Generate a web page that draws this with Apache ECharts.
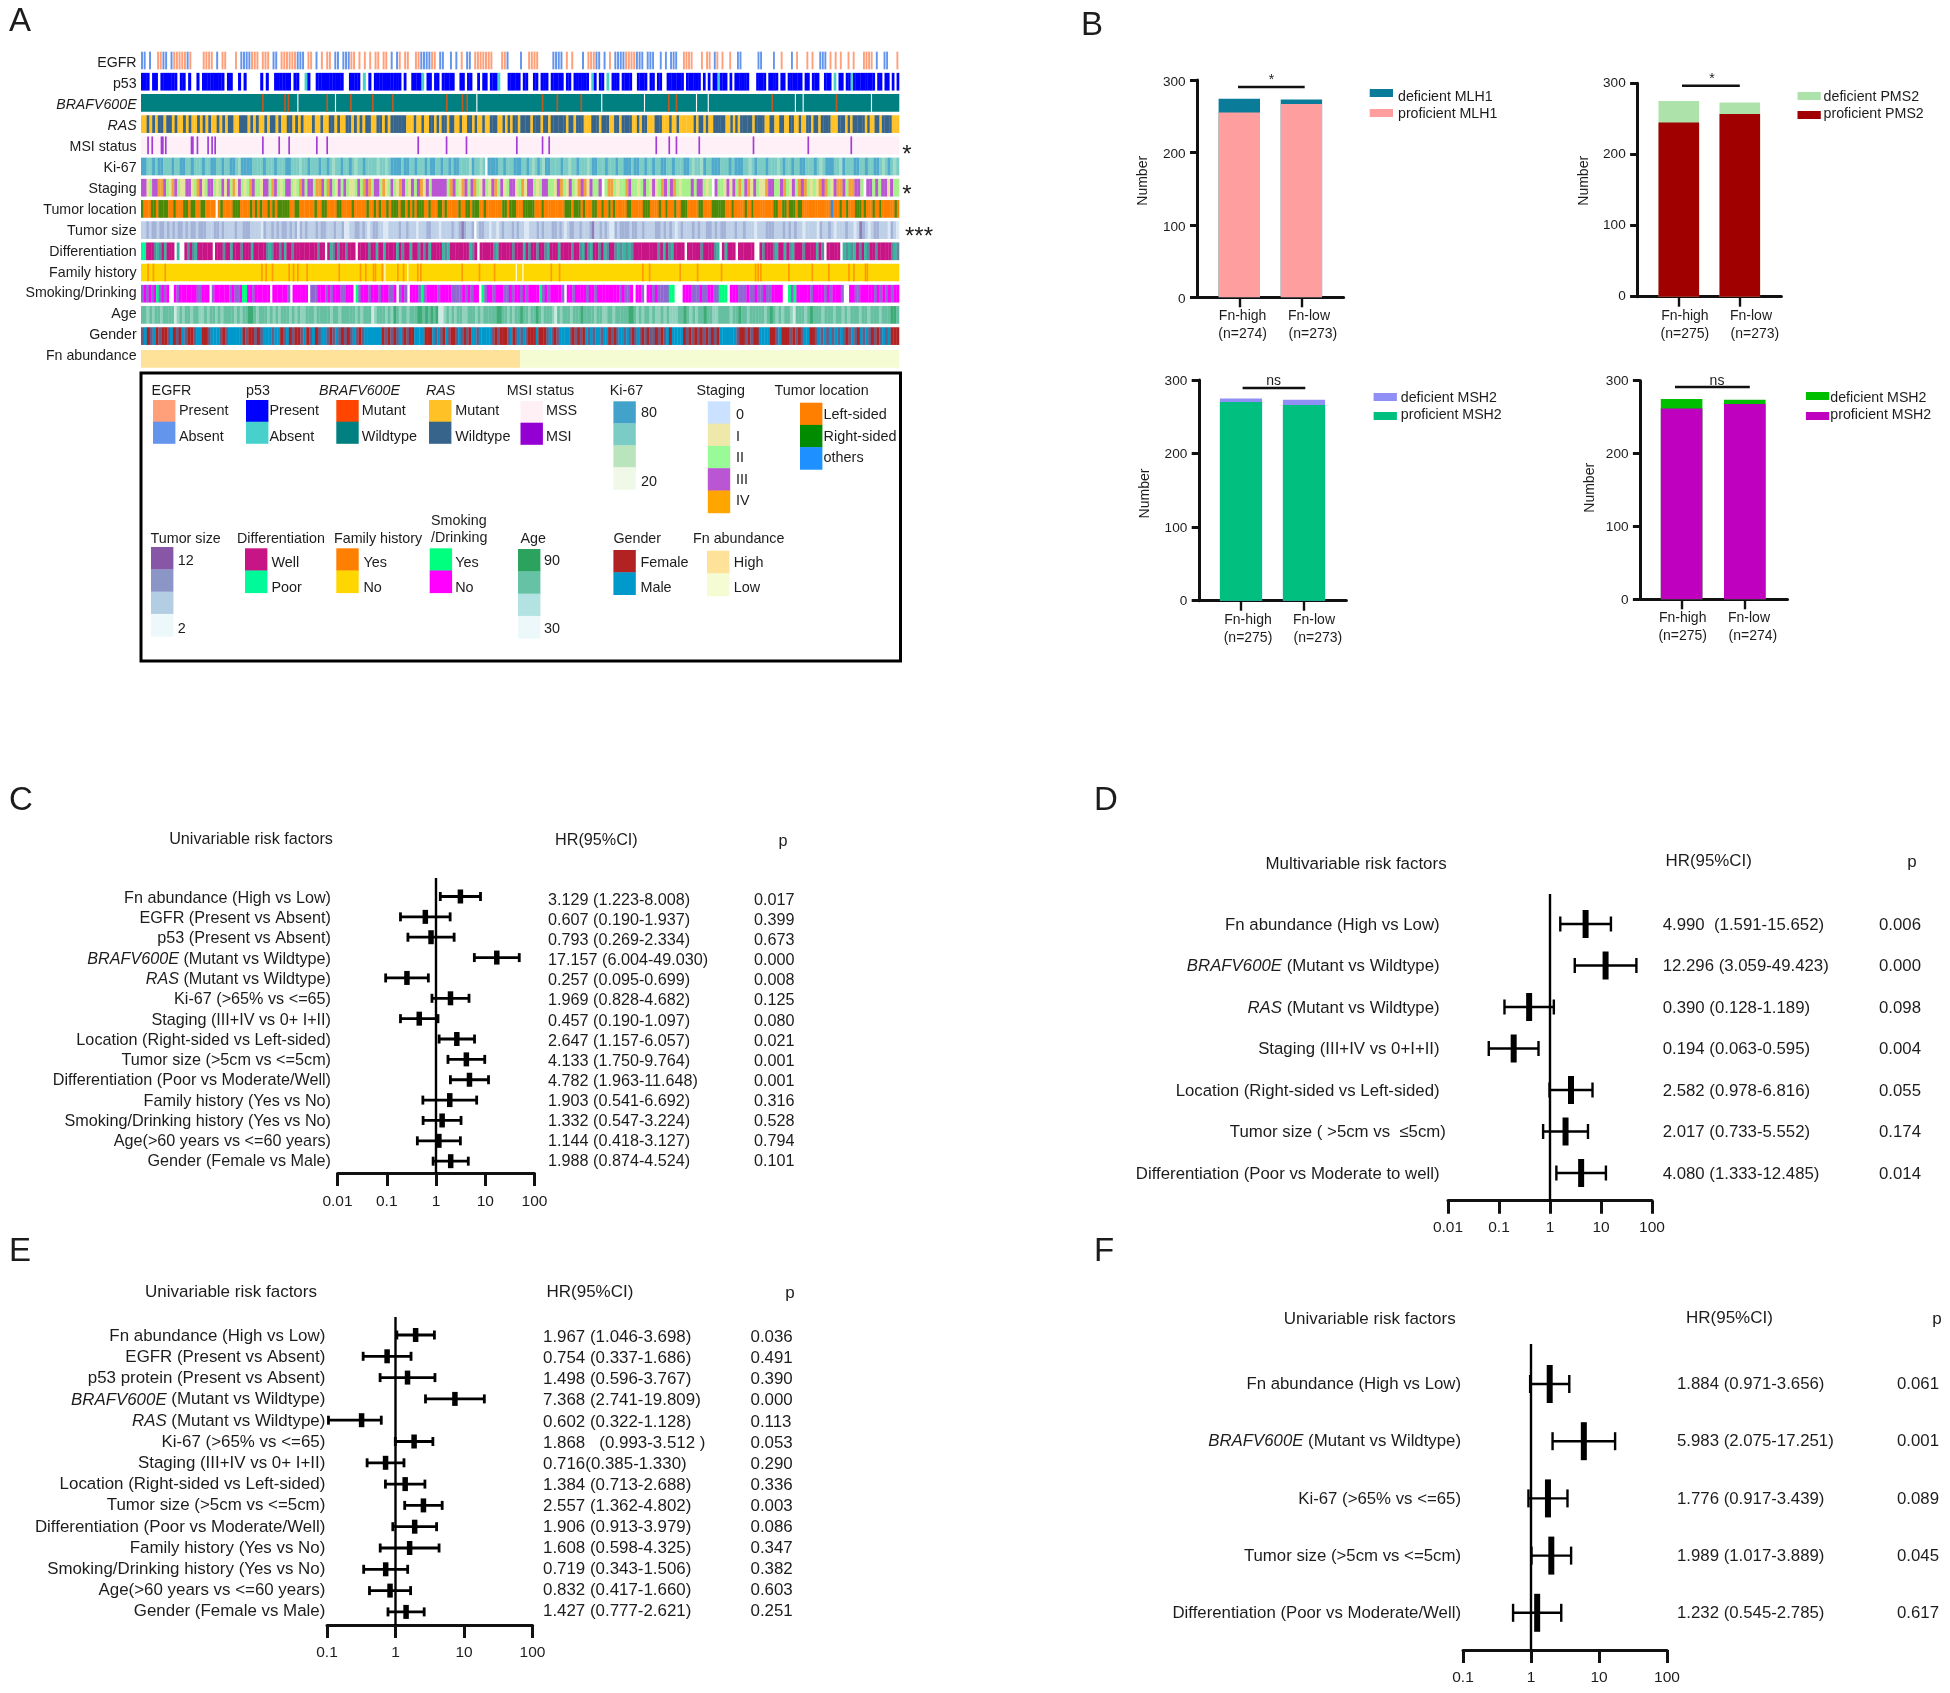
<!DOCTYPE html>
<html><head><meta charset="utf-8">
<style>html,body{margin:0;padding:0;background:#fff}#c{width:1950px;height:1693px}</style>
<script src="https://cdn.jsdelivr.net/npm/echarts@6/dist/echarts.min.js"></script>
</head><body><div id="c"></div>
<script>
/* ---------- PANEL A DATA, one string per third of the track ---------- */
const trackNames = ['EGFR','p53','{i|BRAFV600E}','{i|RAS}','MSI status','Ki-67','Staging','Tumor location','Tumor size','Differentiation','Family history','Smoking/Drinking','Age','Gender','Fn abundance'];
const egfrCells = ["bbwbwwssbbwbsssssbswwwwsssswbwsswwwswbbbbssswssswbbwssssssbbbwsswbwswsswbbwbbbsswswswswsswsswbw","bswsswwssbbbbsswbbwwbwbwswbbwssssssswwwssbwwwwbwwsssswwwwwbbbbwswswwwbwsssbbwbwswbbbbssssbbbwbb","bwwbwbwbbbwwsssswwwswsswbswswwswwbbwwwwwwbbwwwwbwwswwwbwswwwswswwbbbwswswswwswswwwsssswbwwbbwwws"];
const p53Cells = ["BBBwBBwBBBBBBwBBwBwwBwBBBBBBBBwBBwwBwBwwwwwBwBwwBBBBBBwBBwwtBwwBBBBBBBBBBwwBBBBwtwBwBBBBBBBB","BBwBwwBBBBtwBBwBBwBBBBBwwBBwBBwwBwBBwBBBtwwwBBBBBwBBwwBBwBBBwBBBBBwBBwBBBBBBwtBwBBwtwBBBwBBBBwwBBBBwB","BwBBwwBBBBBBBwBBBBBBwBwBwBBtBBBwBwBBBBBBwwwBBBBwBBBBwBBwBBBBBBwBBwBBBwwBBBwtwBBwBBtBBBBBBBBBwBBwBBwBwB"];
const rasCells = ["yydydyddyddydyydydyydydydyydydyddyydddydydyydyddydyyddydydyyydyydyyddydyyddydydyddyyddydydd","ddddyyydyydyyddydyddyddyydyyddydyydyydddyydydyddyddddydddyddyddddddyddydddyyydddydddyyddyddddyydyddyy","ydddyyydyydyyyyyydyddydyydddddyydydydddddyddddyyddyyddyyddyydyyddyddyddddyyydddydydddddydyyddyddddyyy"];
const ki67Cells = ["aabbabaabbbabbaabbabbbabbaabbabbaabcaaaabbbbabbbabbbaabbbcbbabbbabbabcbbabbabcbbabbbbcbbcbaa","aabaabbabbbabaabbabbabaabbbbcabbcbwaaaabbabbbaaabbabcbabcaabbbbabbcbbabbbcbaabbbabbbabbaaabaabbabb","abbaabbabbbaabcbbcabbaaabbbabaaabbcbabbbabbbcbabbabbaabbbabcbaaabbcabbbaabbabbaabcbabcb"];
const stagingCells = ["mmiqmmoomqiomqiimmiqomiqmmqiqmimqoimqiqomqqimmqomqiqmmqiqomqmmqoomqomqimqmqiiqmqomoqmmqoiqmq","iomqimqmoimqmmmmmqomqiomqmoqimqimoqmiqmmiqoimmqiqmmqqimoqimqiomoimqqmwqooqiqqomqqiqmqi","miqomqmoqiqqqmqmmqiqwmqqimimqoqmoimqiiommqqmoqimqomoqiqiomoqimoomqoommqwmmqmqmmimqq"];
const locationCells = ["RLLLRRLRRRRLLRLLLRRLRRLLRRLLLLwLRLLLLRRRLLLLRLRLRLLRLRLRRRRRLLRRLLLLLLRLLRRLLLLRRLLLLRLLLLLRLLRLRLLRLRR","RLRRLRLRLRRRLLRLLLRRLRLLLLLRLLRRLRRRLLRLLLLLLLRRLRRRLLLRRRRRLLLRLLLLLLLLLRRRLRRRLRLLLRRLLRLLRLRLLLLLRRLLLLLRRRL","LLLRLLRLLLRLLRRRLLLLLRRLLLLRRRRRRLLLRLLLLLRLLRLLLLLLLLLRRLLRRLRRRLRRLLLLLLLLLLLLLOLLLRLLRLLLRRRLRLLLRLLRLLLLLLRL"];
const sizeCells = ["llvlvvlvvlvlvlvvlvlvvlvvvlllvvlvllllvllvvvllllevllvlvlvvlvlvevlvlllvlvvlllvllveellvvlvlelvvlleelll","lvllvlllelllvvlllellllvllvpvllvwlvvllellelvlllvlvlleelllvlvlllvvlvlelvvllvlllvpllvlvleevlvvvvlvvllvlll","lvvlvlvlelvlllvlvllvvlvlvvlllvllvlllelllvvvlllvlvlvllellllevllvlelllvllelpvlelvvlllevle"];
const diffCells = ["BBWWWgPgWPWWWwPwwWgWgPWWWWWWwWWWgWWPWWWgWWWPWWWWWgPgWWgWPWWgWWWWWWWWWgWWwWPgWgWWgWWWwWWWWgWWPWWPWWWW","PWgWWPWWgWgWPWWWWPgPWWWWWWWPgWwWWWWWgPWWWWWgWWWPWgWWgWWgPWWWPWWWWgWWgPWgPWWgWPgWWgPgPgPgWWWWWWW","WWgWPWgPWWWWwWWWWWgWWWWgPwWPWWWwWWWWWWwwWgWWWgPWWPWgPWWWgWWWWPWgwWWWWWwPgPgPWgWPgWWgWWWWWgPg"];
const smokeCells = ["vNvNvNSvNvNwwNvNNNNNNNvvNNNwvNNNNNNvNvvNSSNNvNNNNNNwNNNNNNvwNNNNNNwvvvNNNvNvNNNvvNNNwSvNNNvNNNvNNNvvN","wvNvwNNNvSvNNNNvNNNNvvvvNvNvNNwSvNNvNNNvvNvNNvNvNNNNSvNvNNNNvwNNvNNNNvNNvNNNNNNNNvNvvNwNNvwNN","vNvvvvSSwwwNNNvvvNvvNNvvSSSwNNNvvvNvvNvvNvvNNNNwwSvSNNNNNvNNNNvNvNNNvwwNNvvNNNNNvNvNvNvNN"];
const ageCells = ["mmtmtmmtmmmmetmtmmtmmttmtmmtmtmmmmtmtmmaamtmmmtmtmtmmmtmtmttmmmtmmmmmtmmtmmmmmtmtmmmetmmmtmta","mtmmtmmmaamamamaeetmtmtmmttmmmtmtmmmmmaammtmtmmammtmmamtmmmtemtmmmtmmmammmmtmmttmmtmmmmmaamtmtmmt","mttmtmtttmmamtmtmmammttmmmmtmmammtmmmmmtmamtmtmmtemmmtmammmtmmmtmmtmtmmmtmmtmmmtmmmaam"];
const genderCells = ["gMFgMFgFFgMFgFMgFFgMMFFgMMMgFgMMMMMFgFFgFgMMMgMMFgMFgFFgMFgMFgMMgFgMgFgFgMgFgMMMMMMFgFgF","gMgFgFFMMMMFFFMgMgFMgFFgMgFgFMMgMMMMMgFgFFFgMFgMgMgFFFMFFFgMgFgMMMMgFgFgFMgMgMMgMMFgFgMMgMgFgMgFgFg","gFgFgMFMMMMFgFgFgFgFgFgFMMMMMMgFFgFgFFMMMMFFgMFFFgFgFgMMFFgMgMgMgMgMgFgMgFMgMgFgFgMgMFFF"];
const brafMutant = [88,104,106.5,134.5,151.6,167.5,182,221,232.3,235.7,290.2,300.9,318.2,381.5,387,456.2,502.7];
const brafGaps = [113.3,140.5,242.7,333,363.9,401.5,410,473,478.6,528];
const msiMarks = [5,8,14.7,15.7,17.8,36.4,37.4,40.7,48.4,51.3,53.5,88,99.8,107,127,134.5,200.3,220.8,235.2,271.6,290.2,295,372.4,381.8,387,403.5,442.7,482.3,513.4];
const familyYes = [5,8.9,17.4,87.3,90.4,95,107,110.2,113.3,120,143.2,158.6,162.4,168,169.4,174.3,185.6,189.7,200,202.2,232.1,244.6,255.5,296.5,302.5,362.7,367.6,389.7,402.3,419.6,444.2,446.1,448,468.3,485.2,497.2,511.7,515.3,523.7,525];
const familyGaps = [176.2,192.8,271.2,276];
const fnHighCount = 274, fnLowCount = 274;
const sampleCount = 548;

/* ---------- PANEL B DATA ---------- */
const groupNames = ['Fn-high','Fn-low'];
const mlh1Proficient=[255,267],  mlh1Total=[274,273];
const pms2Proficient=[245,257],  pms2Total=[275,273];
const msh2aProficient=[270,266], msh2aTotal=[275,273];
const msh2bProficient=[262,268], msh2bTotal=[275,274];

/* ---------- PANELS C-F DATA ---------- */
const cLabels=['Fn abundance (High vs Low)','EGFR (Present vs Absent)','p53 (Present vs Absent)','{i|BRAFV600E} (Mutant vs Wildtype)','{i|RAS} (Mutant vs Wildtype)','Ki-67 (>65% vs <=65)','Staging (III+IV vs 0+ I+II)','Location (Right-sided vs Left-sided)','Tumor size (>5cm vs <=5cm)','Differentiation (Poor vs Moderate/Well)','Family history (Yes vs No)','Smoking/Drinking history (Yes vs No)','Age(>60 years vs <=60 years)','Gender (Female vs Male)'];
const cHR=[3.129,0.607,0.793,17.157,0.257,1.969,0.457,2.647,4.133,4.782,1.903,1.332,1.144,1.988];
const cLo=[1.223,0.190,0.269,6.004,0.095,0.828,0.190,1.157,1.750,1.963,0.541,0.547,0.418,0.874];
const cHi=[8.008,1.937,2.334,49.030,0.699,4.682,1.097,6.057,9.764,11.648,6.692,3.224,3.127,4.524];
const cText=['3.129 (1.223-8.008)','0.607 (0.190-1.937)','0.793 (0.269-2.334)','17.157 (6.004-49.030)','0.257 (0.095-0.699)','1.969 (0.828-4.682)','0.457 (0.190-1.097)','2.647 (1.157-6.057)','4.133 (1.750-9.764)','4.782 (1.963-11.648)','1.903 (0.541-6.692)','1.332 (0.547-3.224)','1.144 (0.418-3.127)','1.988 (0.874-4.524)'];
const cP=['0.017','0.399','0.673','0.000','0.008','0.125','0.080','0.021','0.001','0.001','0.316','0.528','0.794','0.101'];

const dLabels=['Fn abundance (High vs Low)','{i|BRAFV600E} (Mutant vs Wildtype)','{i|RAS} (Mutant vs Wildtype)','Staging (III+IV vs 0+I+II)','Location (Right-sided vs Left-sided)','Tumor size ( >5cm vs  \u22645cm)','Differentiation (Poor vs Moderate to well)'];
const dHR=[4.990,12.296,0.390,0.194,2.582,2.017,4.080];
const dLo=[1.591,3.059,0.128,0.063,0.978,0.733,1.333];
const dHi=[15.652,49.423,1.189,0.595,6.816,5.552,12.485];
const dText=['4.990  (1.591-15.652)','12.296 (3.059-49.423)','0.390 (0.128-1.189)','0.194 (0.063-0.595)','2.582 (0.978-6.816)','2.017 (0.733-5.552)','4.080 (1.333-12.485)'];
const dP=['0.006','0.000','0.098','0.004','0.055','0.174','0.014'];

const eLabels=['Fn abundance (High vs Low)','EGFR (Present vs Absent)','p53 protein (Present vs Absent)','{i|BRAFV600E} (Mutant vs Wildtype)','{i|RAS} (Mutant vs Wildtype)','Ki-67 (>65% vs <=65)','Staging (III+IV vs 0+ I+II)','Location (Right-sided vs Left-sided)','Tumor size (>5cm vs <=5cm)','Differentiation (Poor vs Moderate/Well)','Family history (Yes vs No)','Smoking/Drinking history (Yes vs No)','Age(>60 years vs <=60 years)','Gender (Female vs Male)'];
const eHR=[1.967,0.754,1.498,7.368,0.32,1.868,0.716,1.384,2.557,1.906,1.608,0.719,0.832,1.427];
const eLo=[1.046,0.337,0.596,2.741,0.105,0.993,0.385,0.713,1.362,0.913,0.598,0.343,0.417,0.777];
const eHi=[3.698,1.686,3.767,19.809,0.62,3.512,1.330,2.688,4.802,3.979,4.325,1.506,1.660,2.621];
const eText=['1.967 (1.046-3.698)','0.754 (0.337-1.686)','1.498 (0.596-3.767)','7.368 (2.741-19.809)','0.602 (0.322-1.128)','1.868   (0.993-3.512 )','0.716(0.385-1.330)','1.384 (0.713-2.688)','2.557 (1.362-4.802)','1.906 (0.913-3.979)','1.608 (0.598-4.325)','0.719 (0.343-1.506)','0.832 (0.417-1.660)','1.427 (0.777-2.621)'];
const eP=['0.036','0.491','0.390','0.000','0.113','0.053','0.290','0.336','0.003','0.086','0.347','0.382','0.603','0.251'];

const fLabels=['Fn abundance (High vs Low)','{i|BRAFV600E} (Mutant vs Wildtype)','Ki-67 (>65% vs <=65)','Tumor size (>5cm vs <=5cm)','Differentiation (Poor vs Moderate/Well)'];
const fHR=[1.884,5.983,1.776,1.989,1.232];
const fLo=[0.971,2.075,0.917,1.017,0.545];
const fHi=[3.656,17.251,3.439,3.889,2.785];
const fText=['1.884 (0.971-3.656)','5.983 (2.075-17.251)','1.776 (0.917-3.439)','1.989 (1.017-3.889)','1.232 (0.545-2.785)'];
const fP=['0.061','0.001','0.089','0.045','0.617'];

/* ---------- STYLES / LAYOUT ---------- */
const FF='"Liberation Sans", Arial, sans-serif', INK='#1c1c1c';
const pal={
 egfr:{s:'#FFA07A',b:'#6495ED'}, p53:{B:'#0000FF',t:'#48D1CC'}, ras:{y:'#FFC125',d:'#36648B'},
 ki:{a:'#4FA9CC',b:'#7BCCC4',c:'#A2DAC8',e:'#F0F9E8'}, stage:{z:'#CAE1FF',i:'#E6E39A',q:'#A8F08A',m:'#BA55D3',o:'#F2A23C'},
 loc:{L:'#FF7F00',R:'#4A8A08',O:'#1E90FF'}, size:{p:'#8F7DB8',v:'#A3B3D8',l:'#BDD0E8',e:'#DCE8F4'},
 diff:{W:'#C71585',B:'#00FA9A',P:'#35B89E',g:'#5C8C9C'}, smoke:{N:'#FF00FF',S:'#00FF7F',v:'#8F68D2'},
 age:{a:'#3CAB74',m:'#66BFA0',t:'#90D2BC',e:'#CDEBE3'}, gender:{F:'#B22222',M:'#0099CC',g:'#6C5C84'}
};
const cells=[];
function addRun(t,a,b,col){cells.push([a,b,t,col]);}
function addTrack(t,segs,p,fill){
  const bounds=[0,184.4,369.5,sampleCount],f=fill||1;
  segs.forEach((s,k)=>{const w=(bounds[k+1]-bounds[k])/s.length;
    for(let i=0;i<s.length;i++){const c=p[s[i]]; if(c) addRun(t,bounds[k]+i*w,bounds[k]+(i+f)*w,c);}});
}
function addMarks(t,list,col,w){list.forEach(s=>addRun(t,s-w/2,s+w/2,col));}
addTrack(0,egfrCells,pal.egfr,.62); addTrack(1,p53Cells,pal.p53);
addRun(2,0,sampleCount,'#008080'); addMarks(2,brafGaps,'#FFFFFF',.6); addMarks(2,brafMutant,'#C4581F',1);
addTrack(3,rasCells,pal.ras);
addRun(4,0,sampleCount,'#FFF0F8'); addMarks(4,msiMarks,'#A23BD8',1);
addTrack(5,ki67Cells,pal.ki); addTrack(6,stagingCells,pal.stage); addTrack(7,locationCells,pal.loc);
addTrack(8,sizeCells,pal.size); addTrack(9,diffCells,pal.diff);
addRun(10,0,sampleCount,'#FFD700'); addMarks(10,familyGaps,'#FFFFFF',.6); addMarks(10,familyYes,'#FF9A00',1);
addTrack(11,smokeCells,pal.smoke); addTrack(12,ageCells,pal.age); addTrack(13,genderCells,pal.gender);

const grid=[],xAxis=[],yAxis=[],series=[],graphic=[];
function T(x,y,text,o){o=o||{};y+=.8;graphic.push({type:'text',silent:true,rotation:o.rot||0,x,y,style:{text,fill:o.fill||INK,
  font:(o.italic?'italic ':'')+(o.size||14.3)+'px '+FF,align:o.align||'left',verticalAlign:'middle',textAlign:o.align||'left',textVerticalAlign:'middle'}});}
function R(x,y,w,h,fill){graphic.push({type:'rect',silent:true,shape:{x,y,width:w,height:h},style:{fill}});}
function L(x1,y1,x2,y2,w){graphic.push({type:'line',silent:true,shape:{x1,y1,x2,y2},style:{stroke:'#111',lineWidth:w}});}
/* grid that only carries a column of labels */
function labelGrid(x0,x1,top,height){
  const gi=grid.length;
  grid.push({left:x0,width:x1-x0,top,height,outerBoundsMode:'none'});
  xAxis.push({type:'value',gridIndex:gi,min:0,max:1,show:false});
  return gi;
}

/* Panel letters */
[['A',20,21],['B',1092,25.5],['C',21,800],['D',1106,800],['E',20,1251],['F',1104,1251]].forEach(a=>T(a[1],a[2],a[0],{size:33,align:'center'}));

/* Heat map grids */
function stripeSeries(gi,data,ratio){
  return {type:'custom',xAxisIndex:gi,yAxisIndex:yAxis.length-1,animation:false,progressive:0,silent:true,
    encode:{x:[0,1],y:2},data:data.map(d=>[d[0],d[1],d[2]]),
    renderItem(params,api){
      const d=data[params.dataIndex],a=api.coord([d[0],d[2]]),b=api.coord([d[1],d[2]]),h=api.size([0,1])[1]*ratio;
      return {type:'rect',shape:{x:a[0],y:a[1]-h/2,width:b[0]-a[0]+.3,height:h},style:{fill:d[3]}};
    }};
}
const richI=(s)=>({i:{fontStyle:'italic',fontSize:s,fontFamily:FF,color:INK}});
function heatGrid(top,height,names,data,ratio){
  const gi=grid.length;
  grid.push({left:141,width:758,top,height,outerBoundsMode:'none'});
  xAxis.push({type:'value',gridIndex:gi,min:0,max:sampleCount,show:false});
  yAxis.push({type:'category',gridIndex:gi,inverse:true,data:names,axisLine:{show:false},axisTick:{show:false},splitLine:{show:false},axisLabel:{show:false}});
  series.push(stripeSeries(gi,data,ratio));
}
heatGrid(49.9,296.8,trackNames.slice(0,14),cells,.835);
heatGrid(350,17.7,['Fn abundance'],[[0,fnHighCount,0,'#FFE299'],[fnHighCount,fnHighCount+fnLowCount,0,'#F5FBD2']],1);
{ const g=labelGrid(141,899,63-10.48,15*20.96);
  yAxis.push({type:'category',gridIndex:g,inverse:true,data:trackNames,axisLine:{show:false},axisTick:{show:false},splitLine:{show:false},
    axisLabel:{interval:0,margin:4.4,fontSize:14.2,fontFamily:FF,color:INK,rich:richI(14.2)}}); }
T(907,155,'*',{size:24,align:'center'});T(907,195,'*',{size:24,align:'center'});T(919,237,'***',{size:24,align:'center'});

/* Panel A legend box */
graphic.push({type:'rect',silent:true,shape:{x:141,y:373,width:759.5,height:288},style:{fill:'none',stroke:'#000',lineWidth:3}});
const legendBlocks=[
 {title:'EGFR',tx:151.6,ty:390,sx:153,sy:400,step:21.7,colors:['#FFA07A','#6495ED'],lx:179,labels:[['Present',410.7],['Absent',436.7]]},
 {title:'p53',tx:246,ty:390,sx:246,sy:400,step:21.7,colors:['#0000FF','#48D1CC'],lx:269.5,labels:[['Present',410.7],['Absent',436.7]]},
 {title:'BRAFV600E',italic:true,tx:319,ty:390,sx:336.3,sy:400,step:21.7,colors:['#FF4500','#008080'],lx:361.8,labels:[['Mutant',410.7],['Wildtype',436.7]]},
 {title:'RAS',italic:true,tx:426,ty:390,sx:429,sy:400,step:21.7,colors:['#FFC125','#36648B'],lx:455.2,labels:[['Mutant',410.7],['Wildtype',436.7]]},
 {title:'MSI status',tx:506.7,ty:390,sx:520.5,sy:401,step:21.7,colors:['#FFF0F5','#9400D3'],lx:546,labels:[['MSS',410.7],['MSI',436.7]]},
 {title:'Ki-67',tx:609.8,ty:390,sx:613.4,sy:401.3,step:22,colors:['#43A2CA','#7BCCC4','#BAE4BC','#F0F9E8'],lx:641,labels:[['80',412.7],['20',481]]},
 {title:'Staging',tx:696.5,ty:390,sx:707.8,sy:401.3,step:22.3,colors:['#CAE1FF','#EEE8AA','#98FB98','#BA55D3','#FFA500'],lx:736,labels:[['0',414],['I',436.7],['II',457],['III',479],['IV',500]]},
 {title:'Tumor location',tx:774.6,ty:390,sx:800,sy:402.7,step:22.2,colors:['#FF7F00','#008B00','#1E90FF'],lx:823.6,labels:[['Left-sided',414],['Right-sided',436.7],['others',457]]},
 {title:'Tumor size',tx:150.6,ty:538.3,sx:151,sy:547,step:22.3,colors:['#8856A7','#8C96C6','#B3CDE3','#EDF8FB'],lx:177.7,labels:[['12',560],['2',628]]},
 {title:'Differentiation',tx:237,ty:538.3,sx:245,sy:548.3,step:22.2,colors:['#C71585','#00FA9A'],lx:271.5,labels:[['Well',562],['Poor',587.7]]},
 {title:'Family history',tx:334,ty:538.3,sx:336.3,sy:548.3,step:22.2,colors:['#FF7F00','#FFD700'],lx:363.4,labels:[['Yes',562],['No',587.7]]},
 {title:'Smoking',tx:431,ty:520.7,sx:429.7,sy:548.3,step:22.2,colors:['#00FF7F','#FF00FF'],lx:455.2,labels:[['Yes',562],['No',587.7]]},
 {title:'Age',tx:520.5,ty:538.3,sx:518,sy:549,step:22.3,colors:['#2CA25F','#66C2A4','#B2E2E2','#EDF8FB'],lx:544,labels:[['90',560],['30',628]]},
 {title:'Gender',tx:613.4,ty:538.3,sx:613.4,sy:550,step:22.3,colors:['#B22222','#0099CC'],lx:640.4,labels:[['Female',562],['Male',587.7]]},
 {title:'Fn abundance',tx:693,ty:538.3,sx:707,sy:550.7,step:22.6,colors:['#FFE299','#F5FBD2'],lx:733.8,labels:[['High',562],['Low',587.7]]}
];
legendBlocks.forEach(b=>{
  T(b.tx,b.ty,b.title,{italic:b.italic});
  b.colors.forEach((c,i)=>R(b.sx,b.sy+i*b.step,22.4,b.step+.4,c));
  b.labels.forEach(l=>T(b.lx,l[1],l[0],{size:14.4}));
});
T(431,537.7,'/Drinking');

/* Panel B stacked bars: the total bar sits behind, the proficient part in front */
const barPanels=[
 {prof:mlh1Proficient,total:mlh1Total,ns:['(n=274)','  (n=273)'],cDef:'#0A7C9A',cProf:'#FF9E9E',defName:'deficient MLH1',profName:'proficient MLH1',
  axisX:1197.6,right:1343.6,top:80,h:217.3,c0:1239.3,c1:1301.4,bw:41.4,lab0:1242.6,lab1:1309,lblDy:2,
  sig:[1238,1304.7,87],sigT:['*',1271.5,79],numX:1142.7,numY:180,sw:[1369.7,93,113],tx:1398,ty:[96,113]},
 {prof:pms2Proficient,total:pms2Total,ns:['(n=275)','  (n=273)'],cDef:'#ADE2AA',cProf:'#A00000',defName:'deficient PMS2',profName:'proficient PMS2',
  axisX:1637.7,right:1781.4,top:83.3,h:213.4,c0:1678.8,c1:1739.8,bw:40.6,lab0:1684.9,lab1:1751,lblDy:0,
  sig:[1682,1739.8,85.7],sigT:['*',1712,78],numX:1584,numY:180,sw:[1797.5,96,115],tx:1823.6,ty:[96,113]},
 {prof:msh2aProficient,total:msh2aTotal,ns:['(n=275)','  (n=273)'],cDef:'#8F8FF5',cProf:'#00BF7F',defName:'deficient MSH2',profName:'proficient MSH2',
  axisX:1199.3,right:1346.4,top:380,h:220.7,c0:1241,c1:1304,bw:42.2,lab0:1248,lab1:1314,lblDy:1,
  sig:[1242.6,1305.3,388],sigT:['ns',1273.7,380],numX:1145,numY:492.7,sw:[1373.6,397,416],tx:1400.8,ty:[397,414]},
 {prof:msh2bProficient,total:msh2bTotal,ns:['(n=275)','  (n=274)'],cDef:'#00BF00',cProf:'#BF00BF',defName:'deficient MSH2',profName:'proficient MSH2',
  axisX:1640.5,right:1787.5,top:380.7,h:218.6,c0:1681.6,c1:1744.8,bw:41.6,lab0:1682.7,lab1:1749,lblDy:1,
  sig:[1675,1749.8,387],sigT:['ns',1717,380],numX:1590.5,numY:487,sw:[1805.9,396,416],tx:1830.3,ty:[397,414]}
];
barPanels.forEach(p=>{
  const gi=grid.length,u=p.c1-p.c0,xmin=(p.axisX-p.c0)/u,xmax=(p.right-p.c0)/u;
  grid.push({left:p.axisX,width:p.right-p.axisX,top:p.top,height:p.h,outerBoundsMode:'none'});
  const labVals=[(p.lab0-p.c0)/u,(p.lab1-p.c0)/u];
  xAxis.push({type:'value',gridIndex:gi,min:xmin,max:xmax,splitLine:{show:false},
    axisLine:{show:true,onZero:false,lineStyle:{color:'#111',width:3}},
    axisTick:{show:true,customValues:[0,1],length:10,lineStyle:{color:'#111',width:2.4}},
    axisLabel:{show:true,customValues:labVals,margin:10,fontSize:14,fontFamily:FF,color:INK,lineHeight:18,showMinLabel:true,showMaxLabel:true,
      formatter:(v)=>{const i=v<.5?0:1;return groupNames[i]+'\n'+p.ns[i];}}});
  const yi=yAxis.length;
  yAxis.push({type:'value',gridIndex:gi,min:0,max:300,interval:100,splitLine:{show:false},
    axisLine:{show:true,onZero:false,lineStyle:{color:'#111',width:3}},
    axisTick:{show:true,length:7.6,lineStyle:{color:'#111',width:3}},
    axisLabel:{show:false}});
  const common={type:'bar',xAxisIndex:gi,yAxisIndex:yi,barWidth:p.bw,barGap:'-100%',animation:false,silent:true};
  series.push(Object.assign({},common,{name:p.defName,itemStyle:{color:p.cDef},data:p.total.map((v,i)=>[i,v])}));
  series.push(Object.assign({},common,{name:p.profName,itemStyle:{color:p.cProf},data:p.prof.map((v,i)=>[i,v])}));
  const lg=labelGrid(p.axisX,p.right,p.top+p.lblDy,p.h);
  yAxis.push({type:'value',gridIndex:lg,min:0,max:300,interval:100,splitLine:{show:false},axisLine:{show:false},axisTick:{show:false},
    axisLabel:{show:true,margin:12,fontSize:13.6,fontFamily:FF,color:INK}});
  L(p.sig[0],p.sig[2],p.sig[1],p.sig[2],2.4);
  T(p.sigT[1],p.sigT[2],p.sigT[0],{size:14,align:'center'});
  T(p.numX,p.numY,'Number',{size:14,align:'center',rot:Math.PI/2});
  R(p.sw[0],p.sw[1]-4,23.3,8,p.cDef);R(p.sw[0],p.sw[2]-4,23.3,8,p.cProf);
  T(p.tx,p.ty[0],p.defName,{size:14.2});T(p.tx,p.ty[1],p.profName,{size:14.2});
});

/* Panels C-F forest plots */
function forest(o){
  const gi=grid.length,first=yAxis.length,n=o.labels.length,H=o.pitch*n,top=o.firstY-o.pitch/2;
  grid.push({left:o.x0,width:o.x1-o.x0,top,height:H,outerBoundsMode:'none'});
  const off=o.axisY-(top+H);
  xAxis.push({type:'log',logBase:10,gridIndex:gi,min:o.min,max:o.max,position:'bottom',offset:off,splitLine:{show:false},minorTick:{show:false},
    axisLine:{show:true,onZero:false,lineStyle:{color:'#111',width:3}},
    axisTick:{show:true,length:o.tick,lineStyle:{color:'#111',width:3}},
    axisLabel:{show:true,margin:o.lm,fontSize:15.5,fontFamily:FF,color:INK,showMinLabel:true,showMaxLabel:true,formatter:v=>String(parseFloat(Number(v).toPrecision(3)))}});
  const yBase={type:'category',inverse:true,axisLine:{show:false},axisTick:{show:false},splitLine:{show:false}};
  yAxis.push(Object.assign({},yBase,{gridIndex:gi,data:o.labels,axisLabel:{show:false}}));
  const lg=labelGrid(o.x0,o.x1,o.lblFirst-o.lblPitch/2,o.lblPitch*n);
  yAxis.push(Object.assign({},yBase,{gridIndex:lg,data:o.labels,position:'left',
    axisLabel:{interval:0,margin:o.x0-o.lblRight,fontSize:o.fs,fontFamily:FF,color:INK,rich:richI(o.fs),formatter:(v,i)=>i===o.skipLabel?'':v}}));
  const hg=labelGrid(o.x0,o.x1,o.hrFirst-o.hrPitch/2,o.hrPitch*n);
  yAxis.push(Object.assign({},yBase,{gridIndex:hg,data:o.text,position:'right',offset:o.hrX-o.x1,
    axisLabel:{interval:0,margin:0,align:'left',fontSize:o.fs,fontFamily:FF,color:INK}}));
  yAxis.push(Object.assign({},yBase,{gridIndex:hg,data:o.p,position:'right',offset:o.pX-o.x1,
    axisLabel:{interval:0,margin:0,align:'left',fontSize:o.fs,fontFamily:FF,color:INK}}));
  series.push({type:'custom',xAxisIndex:gi,yAxisIndex:first,animation:false,silent:true,clip:false,encode:{x:0,y:1},data:[[1,0]],
    renderItem(params,api){
      const c=api.coord([1,0]);
      return {type:'line',shape:{x1:c[0],y1:o.refTop,x2:c[0],y2:o.axisY},style:{stroke:'#000',lineWidth:2.4}};
    }});
  series.push({type:'custom',xAxisIndex:gi,yAxisIndex:first,animation:false,silent:true,clip:false,encode:{x:[0,1,2],y:3},
    data:o.hr.map((v,i)=>[v,o.lo[i],o.hi[i],i]),
    renderItem(params,api){
      const i=api.value(3),a=api.coord([api.value(1),i]),b=api.coord([api.value(2),i]),m=api.coord([api.value(0),i]);
      const st={stroke:'#000',lineWidth:o.lw};
      return {type:'group',children:[
        {type:'line',shape:{x1:a[0],y1:a[1],x2:b[0],y2:b[1]},style:st},
        {type:'line',shape:{x1:a[0],y1:a[1]-o.cap/2,x2:a[0],y2:a[1]+o.cap/2},style:st},
        {type:'line',shape:{x1:b[0],y1:b[1]-o.cap/2,x2:b[0],y2:b[1]+o.cap/2},style:st},
        {type:'rect',shape:{x:m[0]-o.mw/2,y:m[1]-o.mh/2,width:o.mw,height:o.mh},style:{fill:'#000'}}
      ]};
    }});
  T(o.hdr[0],o.hdr[1],o.hdr[2],{size:o.hfs,align:'center'});
  T(o.hdrHR[0],o.hdrHR[1],'HR(95%CI)',{size:o.hfs});
  T(o.hdrP[0],o.hdrP[1],'p',{size:o.hfs,align:'center'});
}
forest({labels:cLabels,hr:cHR,lo:cLo,hi:cHi,text:cText,p:cP,x0:337.5,x1:534.5,min:.01,max:100,firstY:896.5,pitch:20.36,axisY:1173,refTop:878,tick:13,lm:20.5,
  lblFirst:898.5,lblPitch:20.26,hrFirst:900.5,hrPitch:20.1,
  lblRight:331,hrX:548,pX:754,fs:16.2,hfs:16.2,lw:2.8,cap:9,mw:5.5,mh:14,hdr:[251,839,'Univariable risk factors'],hdrHR:[555,840],hdrP:[783,841]});
forest({labels:dLabels,hr:dHR,lo:dLo,hi:dHi,text:dText,p:dP,x0:1448,x1:1652,min:.01,max:100,firstY:924,pitch:41.5,axisY:1200.7,refTop:894,tick:13,lm:19,
  lblFirst:925.2,lblPitch:41.5,hrFirst:925.2,hrPitch:41.5,skipLabel:5,
  lblRight:1439.6,hrX:1662.7,pX:1879,fs:16.8,hfs:16.9,lw:2.4,cap:15,mw:6,mh:28,hdr:[1356,864,'Multivariable risk factors'],hdrHR:[1665.5,861],hdrP:[1912,862]});
T(1229.8,925.2+5*41.5-1.5,dLabels[5],{size:16.8});
forest({labels:eLabels,hr:eHR,lo:eLo,hi:eHi,text:eText,p:eP,x0:327,x1:532.5,min:.1,max:100,firstY:1335,pitch:21.3,axisY:1625,refTop:1317,tick:13,lm:20,
  lblFirst:1336.2,lblPitch:21.2,hrFirst:1337.5,hrPitch:21.1,
  lblRight:325.3,hrX:543,pX:750.5,fs:16.9,hfs:17,lw:2.8,cap:9,mw:5.5,mh:14,hdr:[231,1292,'Univariable risk factors'],hdrHR:[546.5,1292],hdrP:[790,1293]});
forest({labels:fLabels,hr:fHR,lo:fLo,hi:fHi,text:fText,p:fP,x0:1463,x1:1667,min:.1,max:100,firstY:1384,pitch:57.2,axisY:1650,refTop:1344,tick:13,lm:20,
  lblFirst:1384.6,lblPitch:57.2,hrFirst:1384.6,hrPitch:57.2,
  lblRight:1461,hrX:1677,pX:1897,fs:16.8,hfs:17,lw:2.4,cap:18,mw:6,mh:38,hdr:[1369.7,1319,'Univariable risk factors'],hdrHR:[1686,1318],hdrP:[1937,1319]});

const chart=echarts.init(document.getElementById('c'),null,{renderer:'canvas',width:1950,height:1693});
chart.setOption({animation:false,backgroundColor:'#fff',textStyle:{fontFamily:FF},grid,xAxis,yAxis,series,graphic:{elements:graphic}});
</script></body></html>
